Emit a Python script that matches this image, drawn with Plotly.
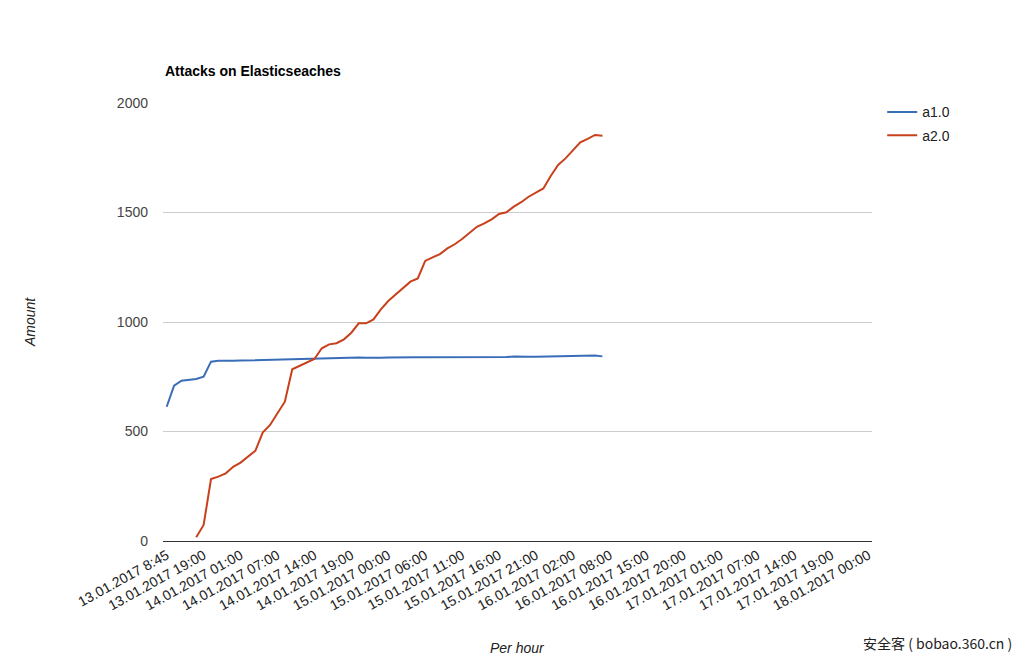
import plotly.graph_objects as go

# ---- data ----
n_categories = 96
tick_labels = ["13.01.2017 8:45", "13.01.2017 19:00", "14.01.2017 01:00", "14.01.2017 07:00",
               "14.01.2017 14:00", "14.01.2017 19:00", "15.01.2017 00:00", "15.01.2017 06:00",
               "15.01.2017 11:00", "15.01.2017 16:00", "15.01.2017 21:00", "16.01.2017 02:00",
               "16.01.2017 08:00", "16.01.2017 15:00", "16.01.2017 20:00", "17.01.2017 01:00",
               "17.01.2017 07:00", "17.01.2017 14:00", "17.01.2017 19:00", "18.01.2017 00:00"]
tick_step = 5

a1 = [613, 709, 732, 735, 740, 750, 819, 823, 822, 823, 824, 825, 826, 826, 826, 827, 828, 829,
      830, 831, 832, 834, 836, 837, 838, 839, 838, 837, 836, 837, 838, 839, 839, 839, 839, 839,
      839, 839, 840, 840, 841, 840, 839, 839, 839, 839, 840, 843, 841, 841, 841, 842, 843, 842,
      845, 846, 848, 848, 847, 843]
a2 = [None, None, None, None, 17, 73, 283, 294, 309, 339, 358, 385, 412, 495, 530, 583, 636, 784,
      799, 814, 831, 880, 898, 903, 921, 951, 994, 994, 1012, 1058, 1096, 1126, 1154, 1184, 1199,
      1279, 1295, 1310, 1336, 1355, 1379, 1408, 1435, 1450, 1469, 1493, 1501, 1527, 1547, 1572,
      1592, 1610, 1667, 1717, 1747, 1785, 1820, 1836, 1854, 1851]

x1 = list(range(len(a1)))
x2 = list(range(len(a2)))
tick_vals = list(range(0, n_categories, tick_step))

FONT = "Liberation Sans, Arial, sans-serif"

fig = go.Figure()
fig.add_trace(go.Scatter(x=x1, y=a1, mode="lines", name="a1.0", legendgroup="g1",
                         line=dict(color="#3A6DB8", width=2)))
fig.add_trace(go.Scatter(x=x2, y=a2, mode="lines", name="a2.0", legendgroup="g2",
                         line=dict(color="#C8401C", width=2), connectgaps=False))

fig.update_layout(
    width=1026, height=662,
    margin=dict(l=155, r=162, t=95, b=129, pad=0),
    paper_bgcolor="white", plot_bgcolor="white",
    font=dict(family=FONT, size=14, color="#444444"),
    showlegend=True,
    legend=dict(x=1.0144, y=1.015, xanchor="left", yanchor="top",
                font=dict(size=14, color="#222222"), bgcolor="rgba(0,0,0,0)",
                tracegroupgap=2),
    xaxis=dict(range=[-0.5, n_categories - 0.5], tickmode="array",
               tickvals=tick_vals, ticktext=tick_labels, tickangle=-29,
               showgrid=False, zeroline=False, showline=True, linecolor="#333333",
               linewidth=1, ticks="", tickfont=dict(size=14, color="#222222")),
    yaxis=dict(range=[0, 2000], tickvals=[0, 500, 1000, 1500, 2000],
               showgrid=True, gridcolor="#CCCCCC", gridwidth=1, zeroline=False,
               ticks="", ticklabelstandoff=14, tickfont=dict(size=14, color="#444444")),
    annotations=[
        dict(text="<b>Attacks on Elasticseaches</b>", xref="paper", yref="paper",
             x=0, y=1.073, xanchor="left", yanchor="middle", showarrow=False,
             font=dict(size=14, color="#000000", family=FONT)),
        dict(text="<i>Amount</i>", xref="paper", yref="paper", x=-0.1876, y=0.5,
             textangle=-90, xanchor="center", yanchor="middle", showarrow=False,
             font=dict(size=14, color="#222222", family=FONT)),
        dict(text="<i>Per hour</i>", xref="paper", yref="paper", x=0.5007, y=-0.2443,
             xanchor="center", yanchor="middle", showarrow=False,
             font=dict(size=14, color="#222222", family=FONT)),
        dict(text="安全客 ( bobao.360.cn )", xref="paper", yref="paper", x=1.2, y=-0.232,
             xanchor="right", yanchor="middle", showarrow=False,
             font=dict(size=14, color="#222222", family="Noto Sans CJK SC")),
    ],
)

fig.write_html("out.html")
